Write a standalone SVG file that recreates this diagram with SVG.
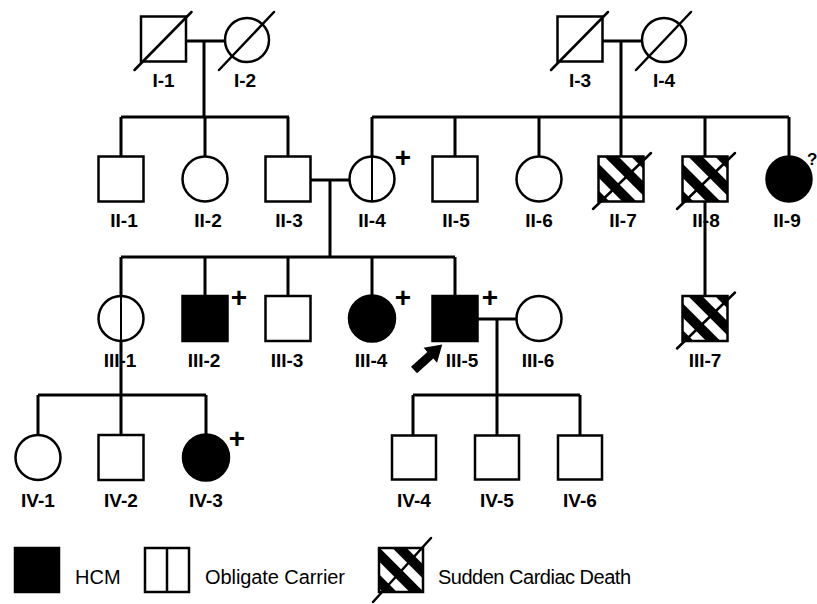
<svg xmlns="http://www.w3.org/2000/svg" width="817" height="604" viewBox="0 0 817 604">
<style>
.sym{fill:#fff;stroke:#000;stroke-width:2.5}
.aff{fill:#000;stroke:#000;stroke-width:2.5}
.scd{fill:url(#hatch);stroke:#000;stroke-width:2.5}
.car{stroke:#000;stroke-width:2}
.dec{stroke:#000;stroke-width:2.5;stroke-linecap:round}
.lbl{font-family:"Liberation Sans",Arial,sans-serif;font-weight:bold;font-size:19px;text-anchor:middle;fill:#000}
.plus{font-family:"Liberation Sans",Arial,sans-serif;font-weight:bold;font-size:28px;text-anchor:middle;fill:#000}
.leg{font-family:"Liberation Sans",Arial,sans-serif;font-size:20px;fill:#000}
#connectors path{fill:none;stroke:#000;stroke-width:3}
</style>
<defs>
<pattern id="hatch" patternUnits="userSpaceOnUse" width="19" height="19" patternTransform="rotate(-45) translate(4,0)">
<rect width="19" height="19" fill="#fff"/><rect width="10" height="19" fill="#000"/>
</pattern>
</defs>
<rect width="817" height="604" fill="#fff"/>
<g id="connectors">
<path d="M186 41H225M204 41V117M121 117H289M121 117V157M205 117V157M288 117V157"/>
<path d="M602 41H642M621 41V117M372 117H789M372 117V157M455 117V157M539 117V157M621 117V157M705 117V157M789 117V157"/>
<path d="M310 180H349M330 180V257M121 257H455M121 257V395M205 257V296M288 257V296M372 257V296M455 257V296"/>
<path d="M705 201V296"/>
<path d="M478 319H517M497 319V395M413 395H580M413 395V436M497 395V436M580 395V436"/>
<path d="M38 395H206M38 395V436M121 395V436M206 395V436"/>
</g>
<g id="I-1" transform="translate(163.5,39)"><rect class="sym" x="-22.5" y="-22.5" width="45" height="45"/><line class="dec" x1="-29" y1="31" x2="28" y2="-27"/><text class="lbl" x="0" y="48">I-1</text></g>
<g id="I-2" transform="translate(247,40)"><circle class="sym" r="22"/><line class="dec" x1="-28" y1="30" x2="27" y2="-28"/><text class="lbl" x="-2" y="47">I-2</text></g>
<g id="I-3" transform="translate(580,39)"><rect class="sym" x="-22.5" y="-22.5" width="45" height="45"/><line class="dec" x1="-29" y1="31" x2="28" y2="-27"/><text class="lbl" x="0" y="48">I-3</text></g>
<g id="I-4" transform="translate(664,40)"><circle class="sym" r="22"/><line class="dec" x1="-28" y1="30" x2="27" y2="-28"/><text class="lbl" x="0" y="47">I-4</text></g>

<g id="II-1" transform="translate(121,179)"><rect class="sym" x="-22.5" y="-22.5" width="45" height="45"/><text class="lbl" x="3" y="48">II-1</text></g>
<g id="II-2" transform="translate(205,179)"><circle class="sym" r="22.5"/><text class="lbl" x="3" y="48">II-2</text></g>
<g id="II-3" transform="translate(288,179)"><rect class="sym" x="-22.5" y="-22.5" width="45" height="45"/><text class="lbl" x="1" y="48">II-3</text></g>
<g id="II-4" transform="translate(372,179)"><circle class="sym" r="22.5"/><line class="car" x1="0" y1="-22.5" x2="0" y2="22.5"/><text class="lbl" x="0" y="48">II-4</text><text class="plus" x="31" y="-12">+</text></g>
<g id="II-5" transform="translate(455,179)"><rect class="sym" x="-22.5" y="-22.5" width="45" height="45"/><text class="lbl" x="1" y="48">II-5</text></g>
<g id="II-6" transform="translate(539,179)"><circle class="sym" r="22.5"/><text class="lbl" x="0" y="48">II-6</text></g>
<g id="II-7" transform="translate(621,179)"><rect class="scd" x="-22.5" y="-22.5" width="45" height="45"/><line class="dec" x1="-28" y1="30" x2="30" y2="-26"/><text class="lbl" x="2" y="48">II-7</text></g>
<g id="II-8" transform="translate(705,179)"><rect class="scd" x="-22.5" y="-22.5" width="45" height="45"/><line class="dec" x1="-28" y1="30" x2="30" y2="-26"/><text class="lbl" x="1" y="48">II-8</text></g>
<g id="II-9" transform="translate(789,179)"><circle class="aff" r="22.5"/><text class="lbl" x="-2" y="48">II-9</text><text class="lbl" x="18" y="-14" style="text-anchor:start;font-size:17px">?</text></g>

<g id="III-1" transform="translate(121,318.5)"><circle class="sym" r="22.5"/><line class="car" x1="0" y1="-22.5" x2="0" y2="22.5"/><text class="lbl" x="-1" y="48.5">III-1</text></g>
<g id="III-2" transform="translate(205,318.5)"><rect class="aff" x="-22.5" y="-22.5" width="45" height="45"/><text class="lbl" x="-1" y="48.5">III-2</text><text class="plus" x="34" y="-12">+</text></g>
<g id="III-3" transform="translate(288,318.5)"><rect class="sym" x="-22.5" y="-22.5" width="45" height="45"/><text class="lbl" x="-1" y="48.5">III-3</text></g>
<g id="III-4" transform="translate(372,318.5)"><circle class="aff" r="23"/><text class="lbl" x="-1" y="48.5">III-4</text><text class="plus" x="31" y="-12">+</text></g>
<g id="III-5" transform="translate(455,318.5)"><rect class="aff" x="-22.5" y="-22.5" width="45" height="45"/><text class="lbl" x="7" y="48.5">III-5</text><text class="plus" x="35" y="-12">+</text><path transform="translate(-41,51.5) rotate(-42)" d="M0 -4.5H22V-10L38 0L22 10V4.5H0Z" fill="#000"/></g>
<g id="III-6" transform="translate(539,318.5)"><circle class="sym" r="22.5"/><text class="lbl" x="-1" y="48.5">III-6</text></g>
<g id="III-7" transform="translate(705,318.5)"><rect class="scd" x="-22.5" y="-22.5" width="45" height="45"/><line class="dec" x1="-28" y1="30" x2="30" y2="-26"/><text class="lbl" x="0" y="48.5">III-7</text></g>

<g id="IV-1" transform="translate(38,457.5)"><circle class="sym" r="22.5"/><text class="lbl" x="0" y="49">IV-1</text></g>
<g id="IV-2" transform="translate(121,457.5)"><rect class="sym" x="-22.5" y="-22.5" width="45" height="45"/><text class="lbl" x="0" y="49">IV-2</text></g>
<g id="IV-3" transform="translate(206,457.5)"><circle class="aff" r="23"/><text class="lbl" x="0" y="49">IV-3</text><text class="plus" x="31" y="-10">+</text></g>
<g id="IV-4" transform="translate(414,457.5)"><rect class="sym" x="-22" y="-22" width="44" height="44"/><text class="lbl" x="0" y="49">IV-4</text></g>
<g id="IV-5" transform="translate(497,457.5)"><rect class="sym" x="-22" y="-22" width="44" height="44"/><text class="lbl" x="0" y="49">IV-5</text></g>
<g id="IV-6" transform="translate(580,457.5)"><rect class="sym" x="-22" y="-22" width="44" height="44"/><text class="lbl" x="0" y="49">IV-6</text></g>

<g id="legend">
<rect class="aff" x="15" y="548" width="44" height="44"/>
<text class="leg" x="75" y="584">HCM</text>
<rect class="sym" x="145" y="548" width="44" height="44"/>
<line class="car" x1="167" y1="548" x2="167" y2="592" style="stroke-width:2.5"/>
<text class="leg" x="205" y="584" textLength="140">Obligate Carrier</text>
<rect class="scd" x="379" y="548" width="44" height="44"/>
<line class="dec" x1="373" y1="602" x2="431" y2="538"/>
<text class="leg" x="438" y="584" textLength="193">Sudden Cardiac Death</text>
</g>
</svg>
